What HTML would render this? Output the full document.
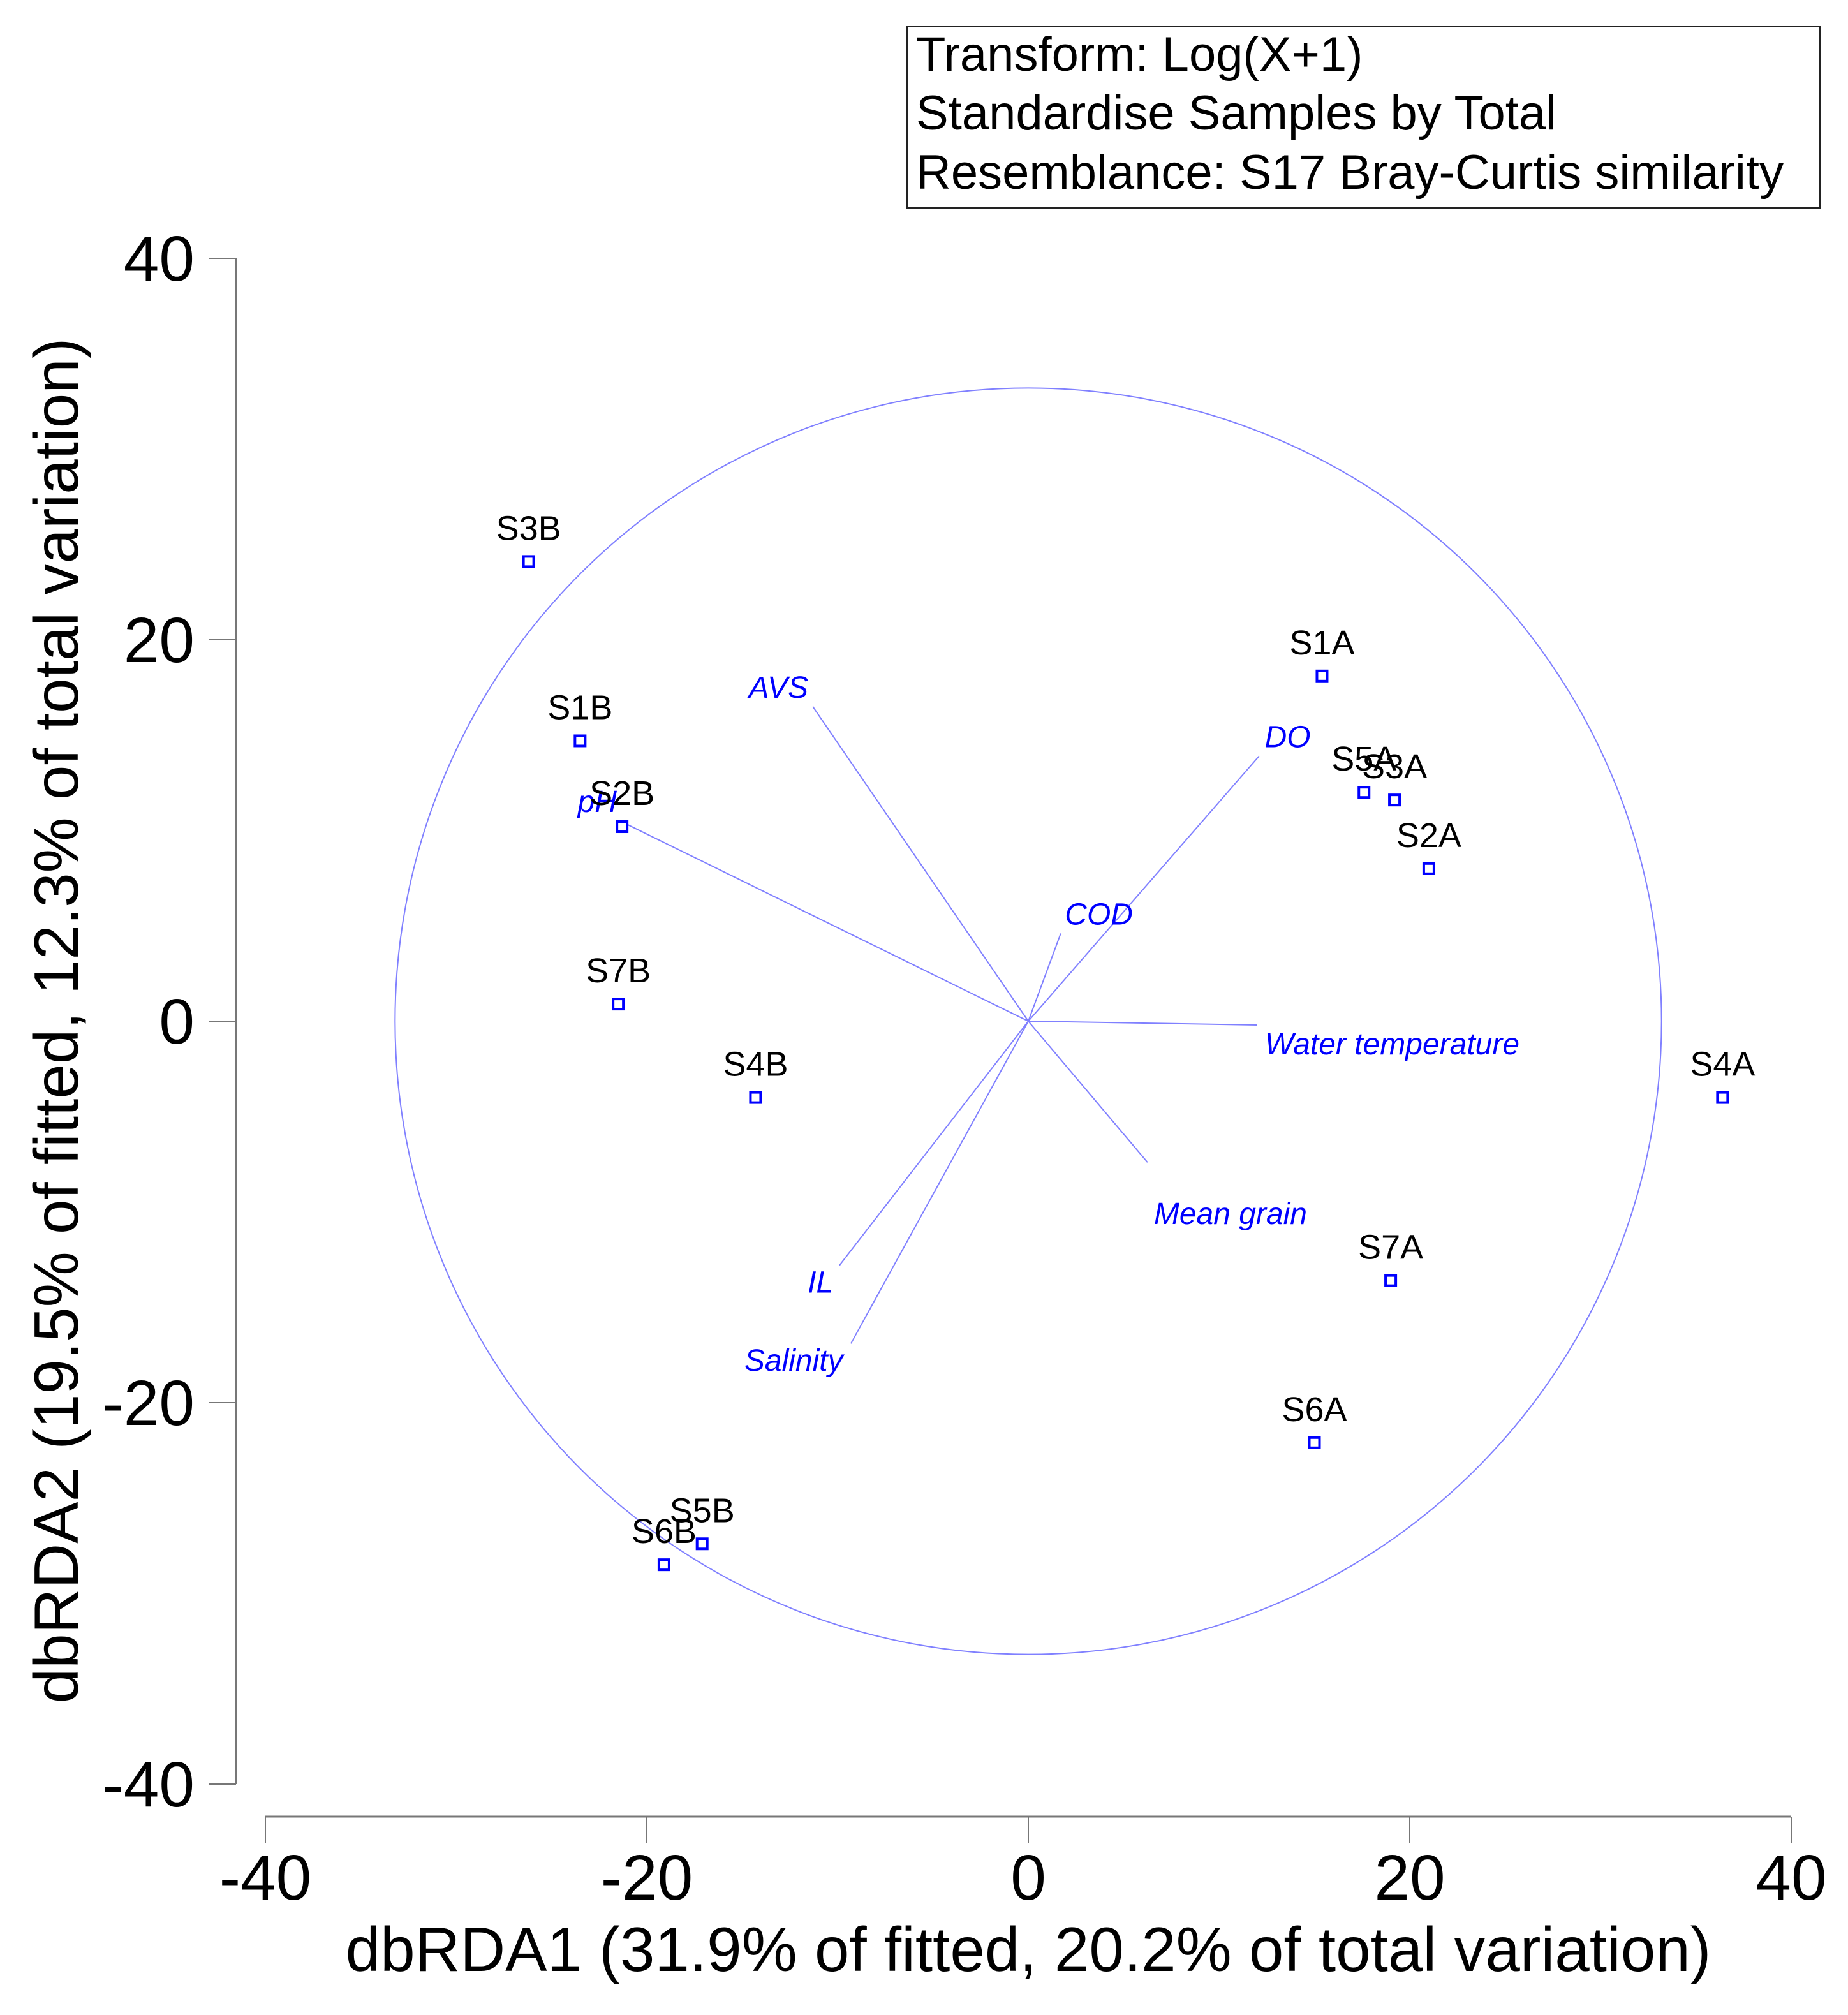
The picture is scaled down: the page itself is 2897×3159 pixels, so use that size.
<!DOCTYPE html>
<html><head><meta charset="utf-8"><style>
html,body{margin:0;padding:0;background:#fff;}
svg{display:block;font-family:"Liberation Sans",sans-serif;}
</style></head><body>
<svg id="chart" width="2897" height="3159" viewBox="0 0 2897 3159" xmlns="http://www.w3.org/2000/svg">
<g>
<rect x="1422" y="42" width="1431" height="284" fill="#fff" stroke="#222" stroke-width="2"/>
<text x="1436" y="111" font-size="76" fill="#000">Transform: Log(X+1)</text>
<text x="1436" y="203" font-size="76" fill="#000">Standardise Samples by Total</text>
<text x="1436" y="296" font-size="76" fill="#000">Resemblance: S17 Bray-Curtis similarity</text>
</g>
<g id="axes"></g>
<g id="marks"></g>
<text x="1612" y="3090" font-size="98" text-anchor="middle" fill="#000">dbRDA1 (31.9% of fitted, 20.2% of total variation)</text>
<text transform="translate(122,1600) rotate(-90)" font-size="98" text-anchor="middle" fill="#000">dbRDA2 (19.5% of fitted, 12.3% of total variation)</text>
</svg>
<script>
const xTicks=[-40,-20,0,20,40];
const yTicks=[40,20,0,-20,-40];
const sampleNames=["S3B","S1B","S2B","S7B","S4B","S5B","S6B","S1A","S5A","S3A","S2A","S4A","S7A","S6A"];
const sampleX=[-26.2,-23.5,-21.3,-21.5,-14.3,-17.1,-19.1,15.4,17.6,19.2,21.0,36.4,19.0,15.0];
const sampleY=[24.1,14.7,10.2,0.9,-4.0,-27.4,-28.5,18.1,12.0,11.6,8.0,-4.0,-13.6,-22.1];
const vecNames=["pH","AVS","DO","COD","Water temperature","Mean grain","IL","Salinity"];
const vecX=[-21.2,-11.3,12.1,1.7,12.0,6.25,-9.9,-9.3];
const vecY=[10.4,16.5,13.9,4.6,-0.2,-7.4,-12.8,-16.9];
const vecLabelX=[-22.6,-13.1,13.6,3.7,12.4,10.6,-10.9,-12.3];
const vecLabelY=[11.5,17.5,14.9,5.6,-1.2,-10.1,-13.7,-17.8];
const circleRadius=33.2;

const X0=1612,Y0=1601,S=29.9;
const xs=v=>X0+v*S, ys=v=>Y0-v*S;
const NS="http://www.w3.org/2000/svg";
function mk(tag,attrs,parent,txt){const e=document.createElementNS(NS,tag);for(const k in attrs)e.setAttribute(k,attrs[k]);if(txt!==undefined)e.textContent=txt;parent.appendChild(e);return e;}
const axes=document.getElementById('axes'), marks=document.getElementById('marks');
let e;
e=mk('line',{x1:370,y1:ys(40),x2:370,y2:ys(-40),stroke:'#777','stroke-width':3},axes);


e=mk('line',{x1:xs(-40),y1:2848,x2:xs(40),y2:2848,stroke:'#777','stroke-width':3},axes);


yTicks.forEach(t=>{
 e=mk('line',{x1:327,y1:ys(t),x2:370,y2:ys(t),stroke:'#777','stroke-width':2},axes);
 
 
 e=mk('text',{x:305,y:ys(t)+35,'font-size':100,'text-anchor':'end',fill:'#000'},axes,String(t));
 
 
});
xTicks.forEach(t=>{
 e=mk('line',{x1:xs(t),y1:2848,x2:xs(t),y2:2890,stroke:'#777','stroke-width':2},axes);
 
 
 e=mk('text',{x:xs(t),y:2978,'font-size':100,'text-anchor':'middle',fill:'#000'},axes,String(t));
 
 
});
e=mk('circle',{cx:xs(0),cy:ys(0),r:circleRadius*S,fill:'none',stroke:'#8080ff','stroke-width':2},marks);


vecNames.forEach((n,i)=>{
 e=mk('line',{x1:xs(0),y1:ys(0),x2:xs(vecX[i]),y2:ys(vecY[i]),stroke:'#8080ff','stroke-width':2},marks);
 
 
 const anchor=n==="Water temperature"?'start':'middle';
 e=mk('text',{x:xs(vecLabelX[i]),y:ys(vecLabelY[i])+16,'font-size':48,'font-style':'italic','text-anchor':anchor,fill:'#0000ff'},marks,n);
 
 
});
sampleNames.forEach((n,i)=>{
 e=mk('rect',{x:xs(sampleX[i])-8,y:ys(sampleY[i])-8,width:16,height:16,fill:'#fff',stroke:'#0000ff','stroke-width':4},marks);
 
 
 e=mk('text',{x:xs(sampleX[i]),y:ys(sampleY[i])-34,'font-size':54,'text-anchor':'middle',fill:'#000'},marks,n);
 
 
});
</script>
</body></html>
